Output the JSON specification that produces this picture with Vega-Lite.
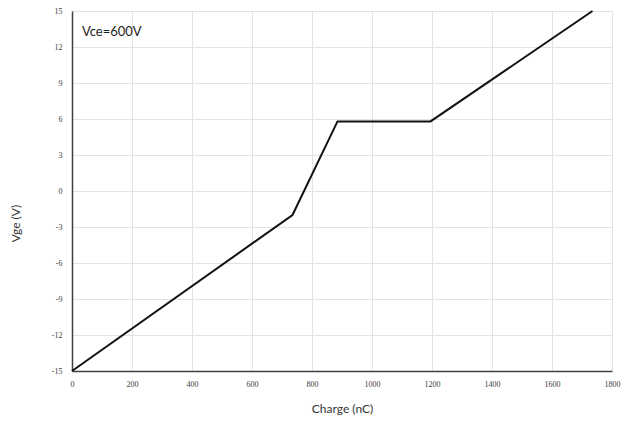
{
  "$schema": "https://vega.github.io/schema/vega-lite/v6.json",
  "autosize": "none",
  "width": 540,
  "height": 360,
  "padding": {"left": 72, "top": 11, "right": 16, "bottom": 50},
  "background": "white",
  "config": {
    "view": {"stroke": null},
    "font": "Lato",
    "axis": {
      "grid": true,
      "gridColor": "#e2e2e2",
      "gridWidth": 1,
      "domainColor": "#404040",
      "domainWidth": 1.5,
      "ticks": false,
      "labelFont": "Liberation Serif",
      "labelFontSize": 8,
      "labelColor": "#404040",
      "labelOverlap": false,
      "titleFont": "Lato",
      "titleFontSize": 12,
      "titleFontWeight": "normal",
      "titleColor": "#333333"
    }
  },
  "encoding": {
    "x": {
      "field": "charge",
      "type": "quantitative",
      "scale": {"domain": [0, 1800], "nice": false},
      "axis": {
        "title": "Charge (nC)",
        "values": [0, 200, 400, 600, 800, 1000, 1200, 1400, 1600, 1800],
        "format": "d",
        "labelPadding": 9,
        "titlePadding": 15,
        "labelFlush": false
      }
    },
    "y": {
      "field": "vge",
      "type": "quantitative",
      "scale": {"domain": [-15, 15], "nice": false},
      "axis": {
        "title": "Vge (V)",
        "values": [-15, -12, -9, -6, -3, 0, 3, 6, 9, 12, 15],
        "labelExpr": "replace(datum.label, '\u2212', '-')",
        "labelPadding": 10,
        "titleY": 212,
        "titleX": -50,
        "labelFlush": false
      }
    }
  },
  "layer": [
    {
      "data": {
        "values": [
          {"charge": 0, "vge": -15},
          {"charge": 735, "vge": -2},
          {"charge": 885, "vge": 5.8},
          {"charge": 1195, "vge": 5.8},
          {"charge": 1735, "vge": 15}
        ]
      },
      "mark": {"type": "line", "color": "#111111", "strokeWidth": 2}
    },
    {
      "data": {"values": [{"charge": 33, "vge": 13.25, "label": "Vce=600V"}]},
      "mark": {"type": "text", "align": "left", "baseline": "middle", "fontSize": 13, "font": "Lato", "color": "#222222"},
      "encoding": {
        "text": {"field": "label"}
      }
    }
  ]
}
